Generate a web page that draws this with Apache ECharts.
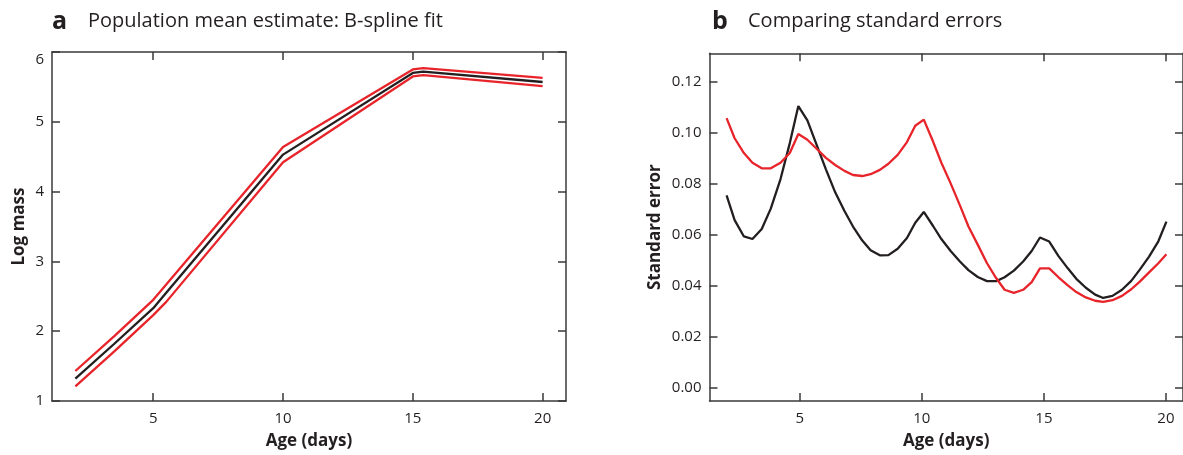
<!DOCTYPE html>
<html>
<head>
<meta charset="utf-8">
<script src="https://cdn.jsdelivr.net/npm/echarts@6/dist/echarts.min.js"></script>
<style>
  html, body { margin: 0; padding: 0; background: #fff; }
  #chart { width: 1183px; height: 455px; }
</style>
</head>
<body>
<div id="chart"></div>
<script>
// panel a: log mass fit with upper/lower band
const ageA = [2, 3.5, 5, 5.5, 10, 15, 15.4, 20];
const meanA = [1.32, 1.82, 2.33, 2.55, 4.53, 5.70, 5.72, 5.57];
const upperA = [1.43, 1.93, 2.45, 2.67, 4.64, 5.75, 5.77, 5.63];
const lowerA = [1.21, 1.71, 2.23, 2.42, 4.42, 5.65, 5.67, 5.51];

// panel b: standard errors
const ageB = [2.0, 2.33, 2.71, 3.06, 3.44, 3.81, 4.21, 4.59, 4.94, 5.31, 5.69, 6.07, 6.45, 6.83, 7.18,
  7.56, 7.9, 8.28, 8.63, 9.01, 9.39, 9.73, 10.08, 10.46, 10.8, 11.18, 11.56, 11.91, 12.29, 12.67,
  13.05, 13.39, 13.77, 14.15, 14.5, 14.84, 15.22, 15.6, 15.98, 16.33, 16.72, 17.1, 17.43, 17.81,
  18.2, 18.58, 18.93, 19.31, 19.69, 20.02];
const seBlack = [0.0753, 0.0656, 0.0592, 0.0582, 0.0621, 0.0701, 0.0817, 0.0958, 0.1103, 0.1047,
  0.0951, 0.0855, 0.0765, 0.0692, 0.0631, 0.0576, 0.0538, 0.0518, 0.0519, 0.0544, 0.0586, 0.0646,
  0.0688, 0.0633, 0.0582, 0.0535, 0.0494, 0.0460, 0.0433, 0.0417, 0.0417, 0.0432, 0.0458, 0.0494,
  0.0535, 0.0588, 0.0572, 0.0515, 0.0467, 0.0426, 0.0391, 0.0364, 0.0351, 0.0359, 0.0383, 0.0418,
  0.0462, 0.0513, 0.0573, 0.0650];
const seRed = [0.1056, 0.0977, 0.0919, 0.0881, 0.0859, 0.0859, 0.0881, 0.0919, 0.0994, 0.0971,
  0.0936, 0.0900, 0.0872, 0.0849, 0.0833, 0.0829, 0.0836, 0.0853, 0.0877, 0.0912, 0.0962, 0.1026,
  0.1050, 0.0964, 0.0881, 0.0800, 0.0714, 0.0631, 0.0560, 0.0487, 0.0428, 0.0383, 0.0371, 0.0383,
  0.0413, 0.0467, 0.0467, 0.0432, 0.0400, 0.0374, 0.0353, 0.0340, 0.0336, 0.0342, 0.0359, 0.0385,
  0.0415, 0.0451, 0.0487, 0.0522];

const xTicks = [5, 10, 15, 20];
const yTicksA = [1, 2, 3, 4, 5, 6];
const yTicksB = [0, 0.02, 0.04, 0.06, 0.08, 0.10, 0.12];

const FONT = '"Open Sans", sans-serif';
const INK = '#231f20';
const RED = '#e8242b';
const AXIS = '#3a3a3a';

function pairs(xs, ys) {
  return xs.map((x, i) => [x, ys[i]]);
}

function tickStyle(vals) {
  return { show: true, inside: true, length: 8, customValues: vals, lineStyle: { color: AXIS, width: 1.5 } };
}

function frameAxis(extra) {
  return Object.assign({
    type: 'value',
    axisLine: { show: true, onZero: false, lineStyle: { color: AXIS, width: 1.5 } },
    axisLabel: { show: false },
    splitLine: { show: false }
  }, extra);
}

const labelStyle = { show: true, fontFamily: FONT, fontSize: 15, color: INK };
const nameStyle = { fontFamily: FONT, fontSize: 17, fontWeight: 'bold', color: INK };
const titleRich = {
  l: { fontFamily: FONT, fontSize: 25, fontWeight: 'bold', color: INK, width: 36 },
  t: { fontFamily: FONT, fontSize: 20, fontWeight: 'normal', color: INK }
};

const chart = echarts.init(document.getElementById('chart'));
chart.setOption({
  animation: false,
  title: [
    { left: 47, top: 4, text: '{l|a}{t|Population mean estimate: B-spline fit}', textStyle: { rich: titleRich } },
    { left: 707, top: 4, text: '{l|b}{t|Comparing standard errors}', textStyle: { rich: titleRich } }
  ],
  grid: [
    { left: 52, top: 52, width: 514, height: 353 },
    { left: 709.5, top: 53.3, width: 474.3, height: 353.2 }
  ],
  xAxis: [
    frameAxis({
      gridIndex: 0, position: 'bottom', min: 1.1, max: 20.9, axisTick: tickStyle(xTicks),
      axisLabel: Object.assign({ customValues: xTicks, margin: 10 }, labelStyle),
      name: 'Age (days)', nameLocation: 'middle', nameGap: 32, nameTextStyle: nameStyle
    }),
    frameAxis({ gridIndex: 0, position: 'top', min: 1.1, max: 20.9, axisTick: tickStyle(xTicks) }),
    frameAxis({
      gridIndex: 1, position: 'bottom', min: 1.3, max: 20.7, axisTick: tickStyle(xTicks),
      axisLabel: Object.assign({ customValues: xTicks, margin: 10 }, labelStyle),
      name: 'Age (days)', nameLocation: 'middle', nameGap: 32, nameTextStyle: nameStyle
    }),
    frameAxis({ gridIndex: 1, position: 'top', min: 1.3, max: 20.7, axisTick: tickStyle(xTicks) })
  ],
  yAxis: [
    frameAxis({
      gridIndex: 0, position: 'left', min: 1, max: 6, axisTick: tickStyle(yTicksA),
      axisLabel: Object.assign({ customValues: yTicksA, margin: 8, verticalAlignMaxLabel: 'top' }, labelStyle),
      name: 'Log mass', nameLocation: 'middle', nameGap: 24, nameTextStyle: nameStyle
    }),
    frameAxis({ gridIndex: 0, position: 'right', min: 1, max: 6, axisTick: tickStyle(yTicksA) }),
    frameAxis({
      gridIndex: 1, position: 'left', min: -0.0053, max: 0.131, axisTick: tickStyle(yTicksB),
      axisLabel: Object.assign({ customValues: yTicksB, margin: 8, formatter: v => v.toFixed(2) }, labelStyle),
      name: 'Standard error', nameLocation: 'middle', nameGap: 46, nameTextStyle: nameStyle
    }),
    frameAxis({ gridIndex: 1, position: 'right', min: -0.0053, max: 0.131, axisTick: tickStyle(yTicksB) })
  ],
  series: [
    { type: 'line', xAxisIndex: 0, yAxisIndex: 0, data: pairs(ageA, meanA), showSymbol: false,
      lineStyle: { color: INK, width: 2.3 }, z: 3 },
    { type: 'line', xAxisIndex: 0, yAxisIndex: 0, data: pairs(ageA, upperA), showSymbol: false,
      lineStyle: { color: RED, width: 2.3 }, z: 2 },
    { type: 'line', xAxisIndex: 0, yAxisIndex: 0, data: pairs(ageA, lowerA), showSymbol: false,
      lineStyle: { color: RED, width: 2.3 }, z: 2 },
    { type: 'line', xAxisIndex: 2, yAxisIndex: 2, data: pairs(ageB, seBlack), showSymbol: false,
      lineStyle: { color: INK, width: 2.3 }, z: 2 },
    { type: 'line', xAxisIndex: 2, yAxisIndex: 2, data: pairs(ageB, seRed), showSymbol: false,
      lineStyle: { color: RED, width: 2.3 }, z: 3 }
  ]
});
</script>
</body>
</html>
